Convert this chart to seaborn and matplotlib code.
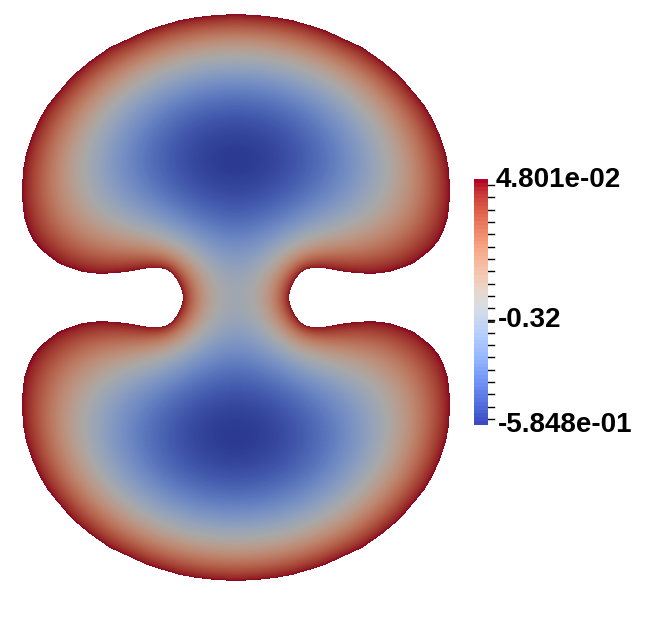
import matplotlib

matplotlib.use('Agg')

import numpy as np
import pandas as pd
import matplotlib.pyplot as plt
from matplotlib.path import Path
from matplotlib.colors import ListedColormap
import seaborn as sns

# scalar range shown on the colour bar
v_max = 4.801e-02
v_min = -5.848e-01
bar_labels = ['4.801e-02', '-0.32', '-5.848e-01']
mid_value = -0.32

# outline of the upper-left quarter of the domain (pixels), top centre -> notch tip
edge_x = [236, 215, 197, 180, 163, 147, 130, 110, 90, 72, 55, 47, 40, 32, 26, 23, 22, 22.5,
          24, 28, 33, 41, 50, 58, 67, 83, 100, 117, 133, 142, 150, 158, 165, 170, 174, 177,
          180, 182, 183]
edge_y = [14, 15, 17, 20, 25, 30, 38, 47, 61, 76, 96, 106, 118, 135, 153, 170, 187, 202,
          217, 230, 240, 250, 257, 263, 267, 272, 274, 273, 271, 269, 268, 268, 269, 272,
          276, 280, 286, 291, 297.5]
mirror_x = 236
mirror_y = 297.5


def outline():
    qx = np.array(edge_x, float)
    qy = np.array(edge_y, float)
    left_top = np.c_[qx, qy]
    left_bot = np.c_[qx, 2 * mirror_y - qy][::-1]
    right_bot = np.c_[2 * mirror_x - qx, 2 * mirror_y - qy]
    right_top = np.c_[2 * mirror_x - qx, qy][::-1]
    return np.vstack((left_top, left_bot, right_bot, right_top))


def sor(u, inside, h, iters, omega):
    """ red/black SOR for  -lap(u) = 1, u = 0 outside """
    ii, jj = np.indices(u.shape)
    red = inside & ((ii + jj) % 2 == 0)
    black = inside & ((ii + jj) % 2 == 1)
    for _ in range(iters):
        for m in (red, black):
            nb = np.zeros_like(u)
            nb[1:-1, 1:-1] = u[:-2, 1:-1] + u[2:, 1:-1] + u[1:-1, :-2] + u[1:-1, 2:]
            gs = (nb + h * h) / 4.0
            u = np.where(m, u + omega * (gs - u), u)
    return u


# pixel window holding the domain
x0, x1, y0, y1 = 20, 454, 12, 584
ncol, nrow = x1 - x0, y1 - y0
jj, ii = np.meshgrid(np.arange(ncol), np.arange(nrow))
centres = np.c_[(x0 + jj + 0.5).ravel(), (y0 + ii + 0.5).ravel()]
inside = Path(outline()).contains_points(centres).reshape(nrow, ncol)

# coarse -> fine relaxation
levels = [(4, 1500, 1.92), (2, 500, 1.95), (1, 400, 1.97)]
uc = None
for step, iters, omega in levels:
    m = inside[::step, ::step]
    if uc is None:
        uc = np.zeros(m.shape)
    else:
        uc = np.repeat(np.repeat(uc, 2, 0), 2, 1)[:m.shape[0], :m.shape[1]] * m
    uc = sor(uc, m, float(step), iters, omega)
u = uc

field = v_max - (v_max - v_min) * u / u.max()
df = pd.DataFrame(field)

# ParaView-like lit surface: cool-to-warm, darkened
base = plt.get_cmap('coolwarm')
shaded = ListedColormap(base(np.linspace(0, 1, 256))[:, :3] * 0.76)

fig = plt.figure(figsize=(6.48, 6.28), dpi=100)
canvas = fig.add_axes([0, 0, 1, 1])
canvas.set_xlim(0, 648)
canvas.set_ylim(628, 0)
canvas.axis('off')

W, H = 648.0, 628.0
ax = fig.add_axes([x0 / W, 1 - y1 / H, ncol / W, nrow / H])
sns.heatmap(df, mask=~inside, cmap=shaded, vmin=v_min, vmax=v_max, cbar=False,
            xticklabels=False, yticklabels=False, ax=ax)
ax.axis('off')

# colour bar
bx0, bx1, by0, by1 = 474, 488, 179, 425
cax = fig.add_axes([bx0 / W, 1 - by1 / H, (bx1 - bx0) / W, (by1 - by0) / H])
bar = pd.DataFrame(np.linspace(v_max, v_min, 64)[:, None])
sns.heatmap(bar, cmap='coolwarm', vmin=v_min, vmax=v_max, cbar=False,
            xticklabels=False, yticklabels=False, ax=cax)
cax.axis('off')


def bar_y(v):
    return by0 + (v_max - v) * (by1 - by0) / (v_max - v_min)


for y in np.linspace(by0 + 6, by1 - 6, 20):
    canvas.plot([bx1, bx1 + 6], [y, y], color='black', lw=1)
canvas.plot([bx1 - 6, bx1 + 6], [bar_y(mid_value)] * 2, color='black', lw=1.2)

font = dict(fontsize=20, fontweight='bold', family=['Liberation Sans', 'DejaVu Sans'],
            va='baseline', ha='left', color='black')
canvas.text(496, 187, bar_labels[0], **font)
canvas.text(498, 327, bar_labels[1], **font)
canvas.text(498, 432, bar_labels[2], **font)

fig.savefig('out.png', dpi=100)
